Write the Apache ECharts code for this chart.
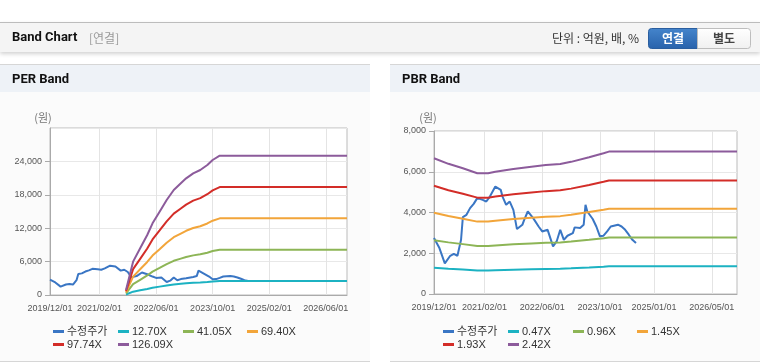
<!DOCTYPE html>
<html><head><meta charset="utf-8">
<script src="https://cdn.jsdelivr.net/npm/echarts@6/dist/echarts.min.js"></script>
<style>html,body{margin:0;padding:0;background:#fff}#c{width:760px;height:364px}</style>
</head><body><div id="c"></div>
<script>
// ---------- data ----------
const perTickLabels = ['2019/12/01','2021/02/01','2022/06/01','2023/10/01','2025/02/01','2026/06/01'];
const pbrTickLabels = ['2019/12/01','2021/02/01','2022/06/01','2023/10/01','2025/01/01','2026/05/01'];

const priceDates = ['2019/12/01','2020/01/16','2020/03/01','2020/04/16','2020/05/16','2020/06/16','2020/07/01','2020/07/16','2020/08/01','2020/09/01',
 '2020/10/01','2020/11/01','2020/12/01','2020/12/16','2021/01/16','2021/02/16','2021/03/16','2021/05/01','2021/06/16','2021/07/01',
 '2021/08/01','2021/09/01','2021/10/01','2021/11/01','2021/12/16','2022/01/01','2022/02/01','2022/03/16','2022/05/01','2022/06/01',
 '2022/07/16','2022/09/01','2022/10/01','2022/11/01','2022/12/01','2023/01/01','2023/02/16','2023/03/01','2023/04/16','2023/05/16',
 '2023/06/01','2023/06/16','2023/08/01','2023/09/01','2023/10/01','2023/11/01','2023/12/01','2024/01/01','2024/01/16','2024/03/01',
 '2024/04/01','2024/05/01','2024/06/01','2024/07/01','2024/08/01'];
const priceValues = [2744,2254,1500,1877,1975,1877,1813,2661,3773,3886,
 4214,4425,4704,4783,4621,4538,4783,5273,5110,4783,
 4376,4538,4131,3186,3396,3641,4050,3724,3314,3070,
 3150,2340,2580,3150,2660,2860,2990,3270,3240,3400,
 4380,4050,3680,3314,2830,2860,3070,3314,3240,3400,
 3314,3150,2910,2660,2500];

const perBandDates = ['2021/09/16','2021/11/16','2022/01/16','2022/03/16','2022/05/01','2022/07/01','2022/09/01','2022/11/01','2023/01/01','2023/02/16','2023/04/16','2023/06/16','2023/08/16','2023/10/01','2023/12/01','2026/12/01'];
const per1270  = [91, 603, 845, 1086, 1297, 1506, 1718, 1900, 2021, 2111, 2202, 2261, 2352, 2442, 2520, 2520];
const per4105  = [293, 1950, 2730, 3510, 4191, 4869, 5554, 6141, 6531, 6823, 7118, 7307, 7602, 7894, 8144, 8144];
const per6940  = [496, 3297, 4615, 5934, 7086, 8231, 9390, 10382, 11042, 11534, 12034, 12353, 12853, 13346, 13769, 13769];
const per9774  = [698, 4643, 6500, 8357, 9979, 11592, 13224, 14622, 15550, 16244, 16948, 17398, 18101, 18796, 19391, 19391];
const per12609 = [900, 5990, 8390, 10780, 12880, 14960, 17060, 18860, 20060, 20960, 21860, 22450, 23350, 24250, 25020, 25020];

const pbrBandDates = ['2019/12/01','2020/04/01','2020/08/01','2020/12/01','2021/03/01','2021/05/01','2021/10/01','2022/03/01','2022/07/01','2022/11/01','2023/02/01','2023/07/01','2023/11/01','2023/12/16','2026/12/01'];
const pbr047 = [1293, 1241, 1199, 1152, 1152, 1166, 1192, 1214, 1230, 1239, 1260, 1303, 1342, 1357, 1357];
const pbr096 = [2642, 2534, 2448, 2352, 2352, 2381, 2436, 2480, 2511, 2531, 2573, 2662, 2741, 2772, 2772];
const pbr145 = [3990, 3828, 3698, 3553, 3553, 3596, 3679, 3745, 3793, 3822, 3886, 4021, 4140, 4188, 4188];
const pbr193 = [5311, 5095, 4922, 4729, 4729, 4786, 4896, 4985, 5049, 5087, 5172, 5352, 5510, 5574, 5574];
const pbr242 = [6660, 6389, 6171, 5929, 5929, 6002, 6140, 6251, 6331, 6379, 6486, 6711, 6909, 6989, 6989];

const perNames = ['수정주가','12.70X','41.05X','69.40X','97.74X','126.09X'];
const pbrNames = ['수정주가','0.47X','0.96X','1.45X','1.93X','2.42X'];
const colors = ['#3a76c4','#1cb2c2','#8db556','#f2a53a','#d32d28','#8c5b9b'];

// ---------- categories (semi-monthly dates) ----------
const cats = [];
for (let y = 2019, m = 12; y < 2026 || (y === 2026 && m <= 12); ) {
  const mm = String(m).padStart(2,'0');
  cats.push(y + '/' + mm + '/01');
  if (!(y === 2026 && m === 12)) cats.push(y + '/' + mm + '/16');
  m++; if (m > 12) { m = 1; y++; }
}
const pair = (dates, vals) => dates.map((d, i) => [cats.indexOf(d), vals[i]]);

const FONT = '"Liberation Sans", Arial, "Noto Sans CJK KR", sans-serif';
const fmt = v => String(v).replace(/\B(?=(\d{3})+(?!\d))/g, ',');

function xAxis(gi, ticks) {
  const f = (i, v) => ticks.indexOf(v) >= 0;
  return { type:'category', gridIndex:gi, data:cats, boundaryGap:false,
    axisLine:{show:true, lineStyle:{color:'#aaa'}}, axisTick:{show:false},
    axisLabel:{interval:f, color:'#555', fontSize:9, fontFamily:FONT, margin:9},
    splitLine:{show:true, interval:f, lineStyle:{color:'#e4e4e4'}} };
}
function yAxis(gi, max, step, showMax) {
  return { type:'value', gridIndex:gi, min:0, max:max, interval:step,
    axisLine:{show:true, lineStyle:{color:'#aaa'}},
    axisTick:{show:true, length:5, lineStyle:{color:'#aaa'}},
    axisLabel:{color:'#555', fontSize:9, fontFamily:FONT, margin:8, showMaxLabel:showMax, formatter:fmt},
    splitLine:{show:true, lineStyle:{color:'#e8e8e8'}} };
}
function line(name, gi, data, color) {
  return { type:'line', name, xAxisIndex:gi, yAxisIndex:gi, data, showSymbol:false, symbol:'none',
    lineStyle:{width:2, color}, itemStyle:{color}, animation:false };
}
function leg(name, left, top) {
  return { data:[name], left, top, padding:0, itemGap:0, itemWidth:11, itemHeight:3, icon:'rect',
    textStyle:{fontSize:11, color:'#333', fontFamily:FONT, padding:[0,0,0,-2]} };
}

const series = [
  line(perNames[0], 0, pair(priceDates, priceValues), colors[0]),
  line(perNames[1], 0, pair(perBandDates, per1270), colors[1]),
  line(perNames[2], 0, pair(perBandDates, per4105), colors[2]),
  line(perNames[3], 0, pair(perBandDates, per6940), colors[3]),
  line(perNames[4], 0, pair(perBandDates, per9774), colors[4]),
  line(perNames[5], 0, pair(perBandDates, per12609), colors[5]),
  line(pbrNames[0], 1, pair(priceDates, priceValues), colors[0]),
  line(pbrNames[1], 1, pair(pbrBandDates, pbr047), colors[1]),
  line(pbrNames[2], 1, pair(pbrBandDates, pbr096), colors[2]),
  line(pbrNames[3], 1, pair(pbrBandDates, pbr145), colors[3]),
  line(pbrNames[4], 1, pair(pbrBandDates, pbr193), colors[4]),
  line(pbrNames[5], 1, pair(pbrBandDates, pbr242), colors[5])
];

const legendCols = [0, 65, 130, 194];
const legends = [];
perNames.forEach((n, i) => legends.push(leg(n, 53 + legendCols[i % 4], i < 4 ? 326 : 339)));
pbrNames.slice(1).forEach((n, j) => { const i = j + 1; legends.push(leg(n, 443 + legendCols[i % 4], i < 4 ? 326 : 339)); });
legends.push(leg(pbrNames[0], 443, 326));

const T = (text, x, y, style) => ({ type:'text', x, y, z:10, style:Object.assign({ text, fill:'#333', font:'12px ' + FONT, verticalAlign:'middle', align:'left' }, style) });
const bold = '"Roboto", "Noto Sans CJK KR", sans-serif';

const graphic = [
  { type:'rect', z:-10, shape:{x:0, y:22, width:760, height:30}, style:{fill:'#f4f4f4', shadowBlur:4, shadowOffsetY:2, shadowColor:'rgba(0,0,0,0.18)'} },
  { type:'line', z:-9, shape:{x1:0, y1:22.5, x2:760, y2:22.5}, style:{stroke:'#bcbcbc', lineWidth:1} },
  T('Band Chart', 12, 38, {font:'bold 13px ' + bold, fill:'#111'}),
  T('[연결]', 89, 38, {font:'12px "Noto Sans CJK KR", sans-serif', fill:'#999'}),
  T('단위 : 억원, 배, %', 552, 38, {font:'12px "Noto Sans CJK KR", sans-serif', fill:'#333'}),
  { type:'rect', z:5, shape:{x:648.5, y:28.5, width:49, height:20, r:[3,0,0,3]},
    style:{fill:new echarts.graphic.LinearGradient(0,0,0,1,[{offset:0,color:'#4585cc'},{offset:1,color:'#2862ab'}]), stroke:'#2a5e9f', lineWidth:1} },
  T('연결', 673, 38.5, {font:'bold 12px "Noto Sans CJK KR", sans-serif', fill:'#fff', align:'center'}),
  { type:'rect', z:5, shape:{x:697.5, y:28.5, width:53, height:20, r:[0,3,3,0]},
    style:{fill:new echarts.graphic.LinearGradient(0,0,0,1,[{offset:0,color:'#ffffff'},{offset:1,color:'#f0f0f0'}]), stroke:'#bdbdbd', lineWidth:1} },
  T('별도', 724, 38.5, {font:'bold 12px "Noto Sans CJK KR", sans-serif', fill:'#444', align:'center'}),
  // PER panel
  { type:'rect', z:-10, shape:{x:0, y:64, width:370, height:298}, style:{fill:'#fbfbfb'} },
  { type:'rect', z:-9, shape:{x:0, y:64, width:370, height:28}, style:{fill:'#eef2f7'} },
  { type:'line', z:-8, shape:{x1:0, y1:64.5, x2:370, y2:64.5}, style:{stroke:'#d6d6d6', lineWidth:1} },
  { type:'line', z:-8, shape:{x1:0, y1:361.5, x2:370, y2:361.5}, style:{stroke:'#d6d6d6', lineWidth:1} },
  T('PER Band', 12, 80, {font:'bold 13px ' + bold, fill:'#111'}),
  T('(원)', 43, 118, {font:'11px "Noto Sans CJK KR", sans-serif', fill:'#777', align:'center'}),
  // PBR panel
  { type:'rect', z:-10, shape:{x:390, y:64, width:370, height:298}, style:{fill:'#fbfbfb'} },
  { type:'rect', z:-9, shape:{x:390, y:64, width:370, height:28}, style:{fill:'#eef2f7'} },
  { type:'line', z:-8, shape:{x1:390, y1:64.5, x2:760, y2:64.5}, style:{stroke:'#d6d6d6', lineWidth:1} },
  { type:'line', z:-8, shape:{x1:390, y1:361.5, x2:760, y2:361.5}, style:{stroke:'#d6d6d6', lineWidth:1} },
  T('PBR Band', 402, 80, {font:'bold 13px ' + bold, fill:'#111'}),
  T('(원)', 428, 118, {font:'11px "Noto Sans CJK KR", sans-serif', fill:'#777', align:'center'})
];

const chart = echarts.init(document.getElementById('c'), null, {renderer:'canvas'});
chart.setOption({
  animation:false,
  color:colors,
  graphic,
  legend:legends,
  grid:[
    {left:50, top:128, width:297, height:167, show:true, borderColor:'#bbb', borderWidth:1, backgroundColor:'#fff'},
    {left:434, top:131, width:303, height:163, show:true, borderColor:'#bbb', borderWidth:1, backgroundColor:'#fff'}
  ],
  xAxis:[xAxis(0, perTickLabels), xAxis(1, pbrTickLabels)],
  yAxis:[yAxis(0, 30000, 6000, false), yAxis(1, 8000, 2000, true)],
  series
});
</script></body></html>
